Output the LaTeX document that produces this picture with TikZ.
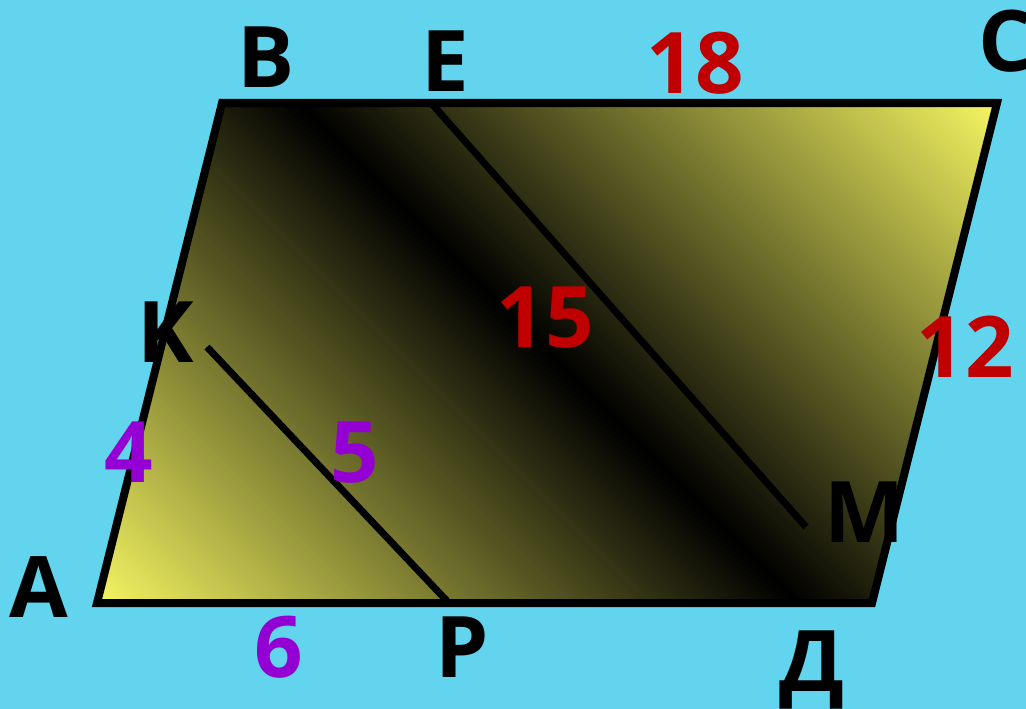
\documentclass[tikz,border=0pt]{standalone}
\usepackage{fontspec}
\setmainfont{Open Sans}
\usetikzlibrary{calc}
\definecolor{fondo}{HTML}{62D4EE}
\definecolor{amarillo}{HTML}{F6F662}
\definecolor{rojo}{HTML}{C00000}
\definecolor{violeta}{HTML}{9400D3}
\tikzset{
  vertice/.style={font=\fontsize{85}{85}\selectfont\bfseries,text=black,inner sep=0pt,anchor=base},
  medida/.style={vertice,text=rojo},
  medidab/.style={vertice,text=violeta},
  borde/.style={draw=black,line width=8pt,line join=miter},
  segmento/.style={draw=black,line width=7pt},
}
\begin{document}
\begin{tikzpicture}[x=1pt,y=-1pt]
  \fill[fondo] (0,0) rectangle (1026,709);
  \useasboundingbox (0,0) rectangle (1026,709);
  \coordinate (A) at (97,603);  \coordinate (B) at (222,103);
  \coordinate (C) at (997,103); \coordinate (D) at (872,603);
  \coordinate (E) at (432,104); \coordinate (M) at (806,527);
  \coordinate (K) at (207,347); \coordinate (P) at (447,601);
  % relleno degradado amarillo-negro-amarillo
  \begin{scope}
    \clip (A) -- (B) -- (C) -- (D) -- cycle;
    \begin{scope}[shift={(547,353)},rotate=45]
      \foreach \i in {0,...,329}{
        \pgfmathsetmacro{\p}{abs(2*(\i+0.5)/330-1)*100}
        \fill[amarillo!\p!black] ({-495+\i*3},-800) rectangle ({-495+(\i+1)*3+0.5},800);
      }
    \end{scope}
  \end{scope}
  \draw[borde] (A) -- (B) -- (C) -- (D) -- cycle;
  \draw[segmento] (E) -- (M);
  \draw[segmento] (K) -- (P);
  % letras
  \node[vertice] (lB) at (266,88) {B};
  \node[vertice] (lE) at (445,92) {E};
  \node[vertice] (lC) at (1006,72) {C};
  \node[vertice] (lK) at (166,362) {K};
  \node[vertice] (lM) at (865,542) {M};
  \node[vertice] (lA) at (39,617) {A};
  \node[vertice] (lP) at (462,677) {P};
  \node[vertice] (lD) at (812,691) {Д};
  % medidas
  \node[medida] (m18) at (695,93) {18};
  \node[medida] (m15) at (545,347) {15};
  \node[medida] (m12) at (965,377) {12};
  \node[medidab] (m4) at (129,482) {4};
  \node[medidab] (m5) at (355,482) {5};
  \node[medidab] (m6) at (279,677) {6};
\end{tikzpicture}
\end{document}
